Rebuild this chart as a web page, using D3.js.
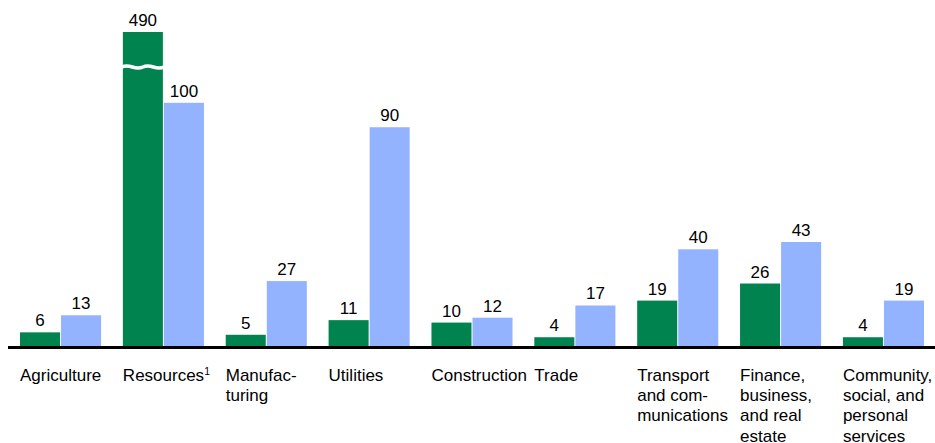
<!DOCTYPE html>
<html>
<head>
<meta charset="utf-8">
<script src="https://cdn.jsdelivr.net/npm/d3@7"></script>
<style>
  html, body { margin: 0; padding: 0; background: #fff; }
  svg { display: block; font-family: Arial, "Liberation Sans", sans-serif; }
</style>
</head>
<body>
<svg id="chart" width="935" height="443"></svg>
<script>
const categories = ["Agriculture", "Resources", "Manufacturing", "Utilities", "Construction", "Trade", "Transport and communications", "Finance, business, and real estate", "Community, social, and personal services"];
const categoryLines = [
  ["Agriculture"],
  ["Resources"],
  ["Manufac-", "turing"],
  ["Utilities"],
  ["Construction"],
  ["Trade"],
  ["Transport", "and com-", "munications"],
  ["Finance,", "business,", "and real", "estate"],
  ["Community,", "social, and", "personal", "services"]
];
const footnoteMarks = ["", "1", "", "", "", "", "", "", ""];
const seriesNames = ["series1", "series2"];
const series1 = [6, 490, 5, 11, 10, 4, 19, 26, 4];
const series2 = [13, 100, 27, 90, 12, 17, 40, 43, 19];
const breakCap = 129; // values above this are drawn truncated with a break mark

const colors = { series1: "#00834F", series2: "#93B2FF" };

const svg = d3.select("#chart");
const baseY = 347;
const x0 = d3.scaleBand().domain(categories).range([20, 924]).paddingInner(0.2117).paddingOuter(0);
const x1 = d3.scaleBand().domain(seriesNames).range([0, x0.bandwidth()]).paddingInner(0.025);
const y = d3.scaleLinear().domain([0, breakCap]).range([baseY, 32]);

const rows = [];
categories.forEach((c, i) => {
  rows.push({ cat: c, s: "series1", v: series1[i] });
  rows.push({ cat: c, s: "series2", v: series2[i] });
});

const g = svg.append("g");
g.selectAll("rect.bar").data(rows).join("rect")
  .attr("class", "bar")
  .attr("x", d => x0(d.cat) + x1(d.s))
  .attr("width", x1.bandwidth())
  .attr("y", d => y(Math.min(d.v, breakCap)))
  .attr("height", d => baseY - y(Math.min(d.v, breakCap)))
  .attr("fill", d => colors[d.s]);

// break marks
rows.filter(d => d.v > breakCap).forEach(d => {
  const bx = x0(d.cat) + x1(d.s) - 1;
  const bw = x1.bandwidth() + 2;
  const yb = y(breakCap) + 35;
  const path = d3.path();
  path.moveTo(bx, yb);
  path.bezierCurveTo(bx + bw * 0.2, yb - 4, bx + bw * 0.3, yb + 4, bx + bw * 0.5, yb);
  path.bezierCurveTo(bx + bw * 0.7, yb - 4, bx + bw * 0.8, yb + 4, bx + bw, yb);
  g.append("path").attr("d", path.toString())
    .attr("fill", "none").attr("stroke", "#fff").attr("stroke-width", 3.5);
});

// value labels
g.selectAll("text.val").data(rows).join("text")
  .attr("class", "val")
  .attr("x", d => x0(d.cat) + x1(d.s) + x1.bandwidth() / 2)
  .attr("y", d => y(Math.min(d.v, breakCap)) - 6)
  .attr("text-anchor", "middle")
  .attr("font-size", 17)
  .attr("fill", "#000")
  .text(d => d.v);

// baseline
svg.append("line")
  .attr("x1", 8).attr("x2", 935)
  .attr("y1", baseY + 0.5).attr("y2", baseY + 0.5)
  .attr("stroke", "#000").attr("stroke-width", 3);

// category labels
categories.forEach((c, i) => {
  const t = svg.append("text")
    .attr("x", x0(c))
    .attr("y", 381)
    .attr("font-size", 17)
    .attr("fill", "#000");
  categoryLines[i].forEach((line, j) => {
    t.append("tspan").attr("x", x0(c)).attr("dy", j === 0 ? 0 : 20.2).text(line);
  });
  if (footnoteMarks[i]) {
    t.append("tspan").attr("font-size", 10.5).attr("dy", -6).text(footnoteMarks[i]);
  }
});
</script>
</body>
</html>
